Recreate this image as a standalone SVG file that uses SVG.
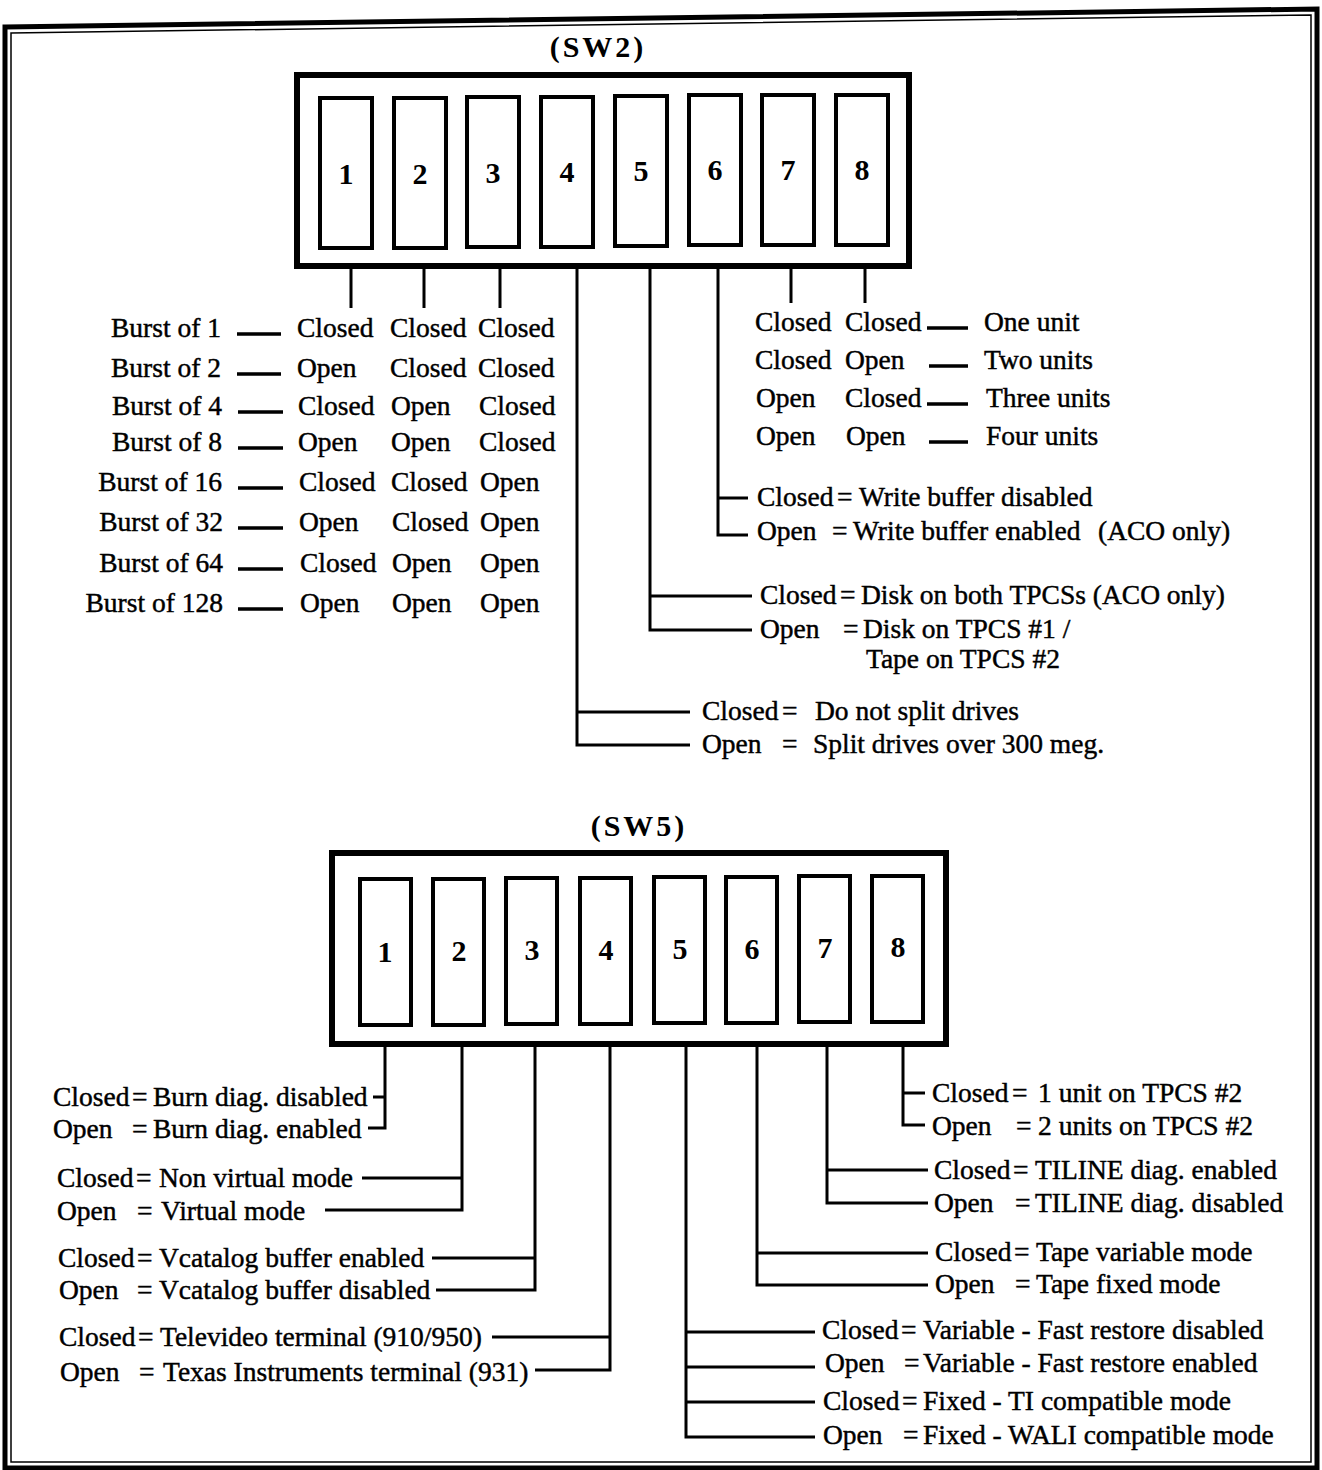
<svg xmlns="http://www.w3.org/2000/svg" width="1322" height="1470" viewBox="0 0 1322 1470">
<style>
.t{font-family:"Liberation Serif","Times New Roman",serif;font-size:27.5px;fill:#000;stroke:#000;stroke-width:0.45}
.n{font-family:"Liberation Serif","Times New Roman",serif;font-size:30px;font-weight:bold;fill:#000;text-anchor:middle}
.h{font-family:"Liberation Serif","Times New Roman",serif;font-size:30px;font-weight:bold;fill:#000;letter-spacing:3px;text-anchor:middle}
.box{fill:#fff;stroke:#000;stroke-width:6}
.sw{fill:#fff;stroke:#000;stroke-width:4}
.c{fill:none;stroke:#000;stroke-width:3}
.d{fill:none;stroke:#000;stroke-width:3.5}
.r{text-anchor:end}
</style>
<rect width="1322" height="1470" fill="#fff"/>
<g id="frame">
<path d="M5,27 L1317,9 L1317,1468 L5,1468 Z" fill="none" stroke="#000" stroke-width="5"/>
<path d="M11,33 L1311,15 L1311,1462 L11,1462 Z" fill="none" stroke="#000" stroke-width="1.5"/>
</g>
<g id="sw2">
<text class="h" x="598" y="57">(SW2)</text>
<rect class="box" x="297" y="75" width="612" height="191"/>
<rect class="sw" x="320" y="98" width="52" height="150"/>
<rect class="sw" x="394" y="98" width="52" height="150"/>
<rect class="sw" x="467" y="97" width="52" height="150"/>
<rect class="sw" x="541" y="97" width="52" height="150"/>
<rect class="sw" x="615" y="96" width="52" height="150"/>
<rect class="sw" x="689" y="95" width="52" height="150"/>
<rect class="sw" x="762" y="95" width="52" height="150"/>
<rect class="sw" x="836" y="95" width="52" height="150"/>
<text class="n" x="346" y="184">1</text>
<text class="n" x="420" y="184">2</text>
<text class="n" x="493" y="183">3</text>
<text class="n" x="567" y="182">4</text>
<text class="n" x="641" y="181">5</text>
<text class="n" x="715" y="180">6</text>
<text class="n" x="788" y="180">7</text>
<text class="n" x="862" y="180">8</text>
</g>
<g id="sw5">
<text class="h" x="639" y="836">(SW5)</text>
<rect class="box" x="332" y="853" width="614" height="191"/>
<rect class="sw" x="360" y="879" width="51" height="146"/>
<rect class="sw" x="433" y="879" width="51" height="146"/>
<rect class="sw" x="506" y="878" width="51" height="146"/>
<rect class="sw" x="580" y="878" width="51" height="146"/>
<rect class="sw" x="654" y="877" width="51" height="146"/>
<rect class="sw" x="726" y="877" width="51" height="146"/>
<rect class="sw" x="799" y="876" width="51" height="146"/>
<rect class="sw" x="872" y="876" width="51" height="146"/>
<text class="n" x="385" y="962">1</text>
<text class="n" x="459" y="961">2</text>
<text class="n" x="532" y="960">3</text>
<text class="n" x="606" y="960">4</text>
<text class="n" x="680" y="959">5</text>
<text class="n" x="752" y="959">6</text>
<text class="n" x="825" y="958">7</text>
<text class="n" x="898" y="957">8</text>
</g>
<g id="connectors">
<path class="c" d="M351,266 V308 M424,266 V308 M500,266 V308 M791,266 V303 M865,266 V303"/>
<path class="c" d="M718,266 V535 H748 M718,498 H748"/>
<path class="c" d="M650,266 V630 H752 M650,596 H752"/>
<path class="c" d="M577,266 V745 H690 M577,712 H690"/>
<path class="d" d="M237,334 H281 M237,374 H281 M238,412 H283 M238,448 H283 M238,488 H283 M238,528 H283 M238,569 H283 M238,609 H283"/>
<path class="d" d="M927,328 H968 M929,366 H968 M927,404 H968 M929,442 H968"/>
<path class="c" d="M385,1044 V1128 H368 M373,1097 H385"/>
<path class="c" d="M462,1044 V1210 H325 M362,1178 H462"/>
<path class="c" d="M535,1044 V1290 H436 M432,1258 H535"/>
<path class="c" d="M610,1044 V1370 H535 M492,1337 H610"/>
<path class="c" d="M686,1044 V1437 H815 M686,1332 H815 M686,1367 H815 M686,1402 H815"/>
<path class="c" d="M757,1044 V1285 H928 M757,1253 H928"/>
<path class="c" d="M827,1044 V1203 H928 M827,1170 H928"/>
<path class="c" d="M903,1044 V1125 H925 M903,1093 H925"/>
</g>
<g id="sw2-burst-table">
<text class="t r" x="221" y="337">Burst of 1</text>
<text class="t r" x="221" y="377">Burst of 2</text>
<text class="t r" x="222" y="415">Burst of 4</text>
<text class="t r" x="222" y="451">Burst of 8</text>
<text class="t r" x="222" y="491">Burst of 16</text>
<text class="t r" x="223" y="531">Burst of 32</text>
<text class="t r" x="223" y="572">Burst of 64</text>
<text class="t r" x="223" y="612">Burst of 128</text>
<text class="t" y="337"><tspan x="297">Closed</tspan><tspan x="390">Closed</tspan><tspan x="478">Closed</tspan></text>
<text class="t" y="377"><tspan x="297">Open</tspan><tspan x="390">Closed</tspan><tspan x="478">Closed</tspan></text>
<text class="t" y="415"><tspan x="298">Closed</tspan><tspan x="391">Open</tspan><tspan x="479">Closed</tspan></text>
<text class="t" y="451"><tspan x="298">Open</tspan><tspan x="391">Open</tspan><tspan x="479">Closed</tspan></text>
<text class="t" y="491"><tspan x="299">Closed</tspan><tspan x="391">Closed</tspan><tspan x="480">Open</tspan></text>
<text class="t" y="531"><tspan x="299">Open</tspan><tspan x="392">Closed</tspan><tspan x="480">Open</tspan></text>
<text class="t" y="572"><tspan x="300">Closed</tspan><tspan x="392">Open</tspan><tspan x="480">Open</tspan></text>
<text class="t" y="612"><tspan x="300">Open</tspan><tspan x="392">Open</tspan><tspan x="480">Open</tspan></text>
</g>
<g id="sw2-units-table">
<text class="t" y="331"><tspan x="755">Closed</tspan><tspan x="845">Closed</tspan><tspan x="984">One unit</tspan></text>
<text class="t" y="369"><tspan x="755">Closed</tspan><tspan x="845">Open</tspan><tspan x="984">Two units</tspan></text>
<text class="t" y="407"><tspan x="756">Open</tspan><tspan x="845">Closed</tspan><tspan x="986">Three units</tspan></text>
<text class="t" y="445"><tspan x="756">Open</tspan><tspan x="846">Open</tspan><tspan x="986">Four units</tspan></text>
</g>
<g id="sw2-6">
<text class="t" y="506"><tspan x="757">Closed</tspan><tspan x="837">=</tspan><tspan x="859">Write buffer disabled</tspan></text>
<text class="t" y="540"><tspan x="757">Open</tspan><tspan x="832">=</tspan><tspan x="853">Write buffer enabled</tspan><tspan x="1098">(ACO only)</tspan></text>
</g>
<g id="sw2-5">
<text class="t" y="604"><tspan x="760">Closed</tspan><tspan x="840">=</tspan><tspan x="861">Disk on both TPCSs (ACO only)</tspan></text>
<text class="t" y="638"><tspan x="760">Open</tspan><tspan x="843">=</tspan><tspan x="863">Disk on TPCS #1 /</tspan></text>
<text class="t" x="866" y="668">Tape on TPCS #2</text>
</g>
<g id="sw2-4">
<text class="t" y="720"><tspan x="702">Closed</tspan><tspan x="782">=</tspan><tspan x="815">Do not split drives</tspan></text>
<text class="t" y="753"><tspan x="702">Open</tspan><tspan x="782">=</tspan><tspan x="813">Split drives over 300 meg.</tspan></text>
</g>
<g id="sw5-1">
<text class="t" y="1106"><tspan x="53">Closed</tspan><tspan x="132">=</tspan><tspan x="153">Burn diag. disabled</tspan></text>
<text class="t" y="1138"><tspan x="53">Open</tspan><tspan x="132">=</tspan><tspan x="153">Burn diag. enabled</tspan></text>
</g>
<g id="sw5-2">
<text class="t" y="1187"><tspan x="57">Closed</tspan><tspan x="136">=</tspan><tspan x="159">Non virtual mode</tspan></text>
<text class="t" y="1220"><tspan x="57">Open</tspan><tspan x="137">=</tspan><tspan x="161">Virtual mode</tspan></text>
</g>
<g id="sw5-3">
<text class="t" y="1267"><tspan x="58">Closed</tspan><tspan x="137">=</tspan><tspan x="159">Vcatalog buffer enabled</tspan></text>
<text class="t" y="1299"><tspan x="59">Open</tspan><tspan x="137">=</tspan><tspan x="159">Vcatalog buffer disabled</tspan></text>
</g>
<g id="sw5-4">
<text class="t" y="1346"><tspan x="59">Closed</tspan><tspan x="138">=</tspan><tspan x="160">Televideo terminal (910/950)</tspan></text>
<text class="t" y="1381"><tspan x="60">Open</tspan><tspan x="139">=</tspan><tspan x="163">Texas Instruments terminal (931)</tspan></text>
</g>
<g id="sw5-8">
<text class="t" y="1102"><tspan x="932">Closed</tspan><tspan x="1012">=</tspan><tspan x="1038">1 unit on TPCS #2</tspan></text>
<text class="t" y="1135"><tspan x="932">Open</tspan><tspan x="1016">=</tspan><tspan x="1038">2 units on TPCS #2</tspan></text>
</g>
<g id="sw5-7">
<text class="t" y="1179"><tspan x="934">Closed</tspan><tspan x="1013">=</tspan><tspan x="1035">TILINE diag. enabled</tspan></text>
<text class="t" y="1212"><tspan x="934">Open</tspan><tspan x="1015">=</tspan><tspan x="1035">TILINE diag. disabled</tspan></text>
</g>
<g id="sw5-6">
<text class="t" y="1261"><tspan x="935">Closed</tspan><tspan x="1014">=</tspan><tspan x="1036">Tape variable mode</tspan></text>
<text class="t" y="1293"><tspan x="935">Open</tspan><tspan x="1015">=</tspan><tspan x="1036">Tape fixed mode</tspan></text>
</g>
<g id="sw5-5">
<text class="t" y="1339"><tspan x="822">Closed</tspan><tspan x="901">=</tspan><tspan x="923">Variable - Fast restore disabled</tspan></text>
<text class="t" y="1372"><tspan x="825">Open</tspan><tspan x="904">=</tspan><tspan x="923">Variable - Fast restore enabled</tspan></text>
<text class="t" y="1410"><tspan x="823">Closed</tspan><tspan x="902">=</tspan><tspan x="923">Fixed - TI compatible mode</tspan></text>
<text class="t" y="1444"><tspan x="823">Open</tspan><tspan x="903">=</tspan><tspan x="923">Fixed - WALI compatible mode</tspan></text>
</g>
</svg>
